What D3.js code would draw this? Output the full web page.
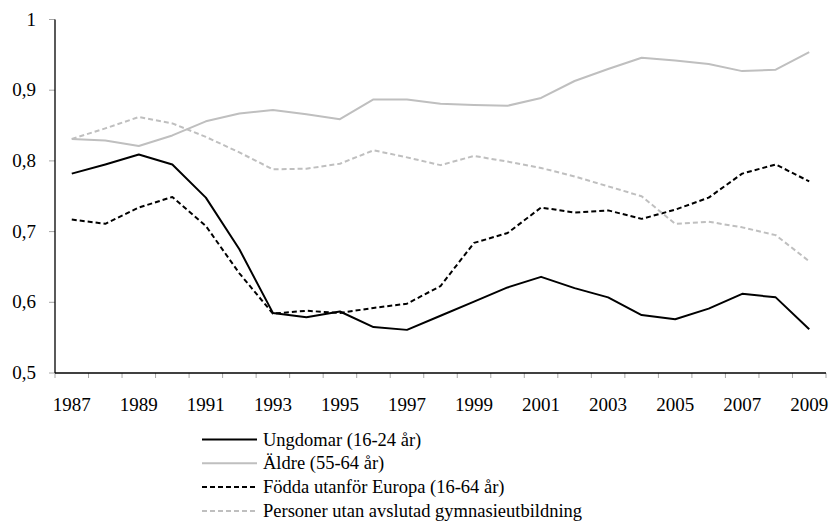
<!DOCTYPE html>
<html>
<head>
<meta charset="utf-8">
<script src="https://cdn.jsdelivr.net/npm/d3@7"></script>
<style>
  body { margin: 0; background: #fff; }
</style>
</head>
<body>
<div id="chart"></div>
<script>
// data
const years = d3.range(1987, 2010);
const tickYears = [1987, 1989, 1991, 1993, 1995, 1997, 1999, 2001, 2003, 2005, 2007, 2009];
const yTicks = [0.5, 0.6, 0.7, 0.8, 0.9, 1];

const ungdomar = [0.782, 0.795, 0.809, 0.795, 0.748, 0.675, 0.585, 0.579, 0.587, 0.565, 0.561,
  0.581, 0.601, 0.621, 0.636, 0.620, 0.607, 0.582, 0.576, 0.591, 0.612, 0.607, 0.562];
const aldre = [0.831, 0.829, 0.821, 0.836, 0.856, 0.867, 0.872, 0.866, 0.859, 0.887, 0.887,
  0.881, 0.879, 0.878, 0.889, 0.913, 0.930, 0.946, 0.942, 0.937, 0.927, 0.929, 0.954];
const foddaUtanfor = [0.717, 0.711, 0.734, 0.749, 0.708, 0.641, 0.584, 0.588, 0.585, 0.592, 0.598,
  0.623, 0.684, 0.698, 0.734, 0.727, 0.730, 0.718, 0.731, 0.748, 0.782, 0.795, 0.771];
const utanGymnasie = [0.831, 0.846, 0.862, 0.853, 0.834, 0.812, 0.788, 0.789, 0.796, 0.815, 0.805,
  0.794, 0.807, 0.799, 0.790, 0.778, 0.764, 0.750, 0.711, 0.714, 0.706, 0.695, 0.658];

const series = [
  { name: "Ungdomar (16-24 år)", values: ungdomar, color: "#000", dash: null },
  { name: "Äldre (55-64 år)", values: aldre, color: "#bfbfbf", dash: null },
  { name: "Födda utanför Europa (16-64 år)", values: foddaUtanfor, color: "#000", dash: "5,3" },
  { name: "Personer utan avslutad gymnasieutbildning", values: utanGymnasie, color: "#bfbfbf", dash: "5,3" }
];

const width = 829, height = 526;
const mLeft = 55, mRight = 826, mTop = 19.5, mBottom = 373;

const svg = d3.select("#chart").append("svg")
  .attr("width", width)
  .attr("height", height)
  .style("font-family", "'Liberation Serif', 'Times New Roman', serif");

const x = d3.scaleBand().domain(years).range([mLeft, mRight]);
const y = d3.scaleLinear().domain([0.5, 1]).range([mBottom, mTop]);

// x-axel: streck vid kategorigränser
const boundaries = years.map(d => x(d)).concat([mRight]);
svg.selectAll(".xtick")
  .data(boundaries)
  .enter().append("line")
  .attr("x1", d => d).attr("x2", d => d)
  .attr("y1", mBottom).attr("y2", mBottom + 5)
  .attr("stroke", "#a6a6a6").attr("stroke-width", 1);

svg.selectAll(".xlabel")
  .data(tickYears)
  .enter().append("text")
  .attr("x", d => x(d) + x.bandwidth() / 2)
  .attr("y", mBottom + 38)
  .attr("text-anchor", "middle")
  .attr("font-size", 19)
  .text(d => d);

// y-axel
svg.selectAll(".ytick")
  .data(yTicks)
  .enter().append("line")
  .attr("x1", mLeft - 6).attr("x2", mLeft)
  .attr("y1", d => y(d)).attr("y2", d => y(d))
  .attr("stroke", "#a6a6a6").attr("stroke-width", 1);

const fmt = d => d === 1 ? "1" : d3.format(".1f")(d).replace(".", ",");
svg.selectAll(".ylabel")
  .data(yTicks)
  .enter().append("text")
  .attr("x", 36)
  .attr("y", d => y(d) + 6)
  .attr("text-anchor", "end")
  .attr("font-size", 19)
  .text(fmt);

svg.append("line")
  .attr("x1", mLeft).attr("x2", mLeft)
  .attr("y1", mTop).attr("y2", mBottom)
  .attr("stroke", "#000").attr("stroke-width", 1.3);
svg.append("line")
  .attr("x1", mLeft).attr("x2", mRight)
  .attr("y1", mBottom).attr("y2", mBottom)
  .attr("stroke", "#000").attr("stroke-width", 1.3);

// linjer
const line = d3.line()
  .x((d, i) => x(years[i]) + x.bandwidth() / 2)
  .y(d => y(d));

svg.selectAll(".series")
  .data(series)
  .enter().append("path")
  .attr("d", d => line(d.values))
  .attr("fill", "none")
  .attr("stroke", d => d.color)
  .attr("stroke-width", 2)
  .attr("stroke-dasharray", d => d.dash)
  .attr("stroke-linejoin", "round");

// förklaring
const legend = svg.selectAll(".legend")
  .data(series)
  .enter().append("g")
  .attr("transform", (d, i) => `translate(202, ${439.5 + i * 23.8})`);

legend.append("line")
  .attr("x1", 0).attr("x2", 55)
  .attr("y1", 0).attr("y2", 0)
  .attr("stroke", d => d.color)
  .attr("stroke-width", 2)
  .attr("stroke-dasharray", d => d.dash);

legend.append("text")
  .attr("x", 61)
  .attr("y", 6)
  .attr("font-size", 18.5)
  .text(d => d.name);
</script>
</body>
</html>
